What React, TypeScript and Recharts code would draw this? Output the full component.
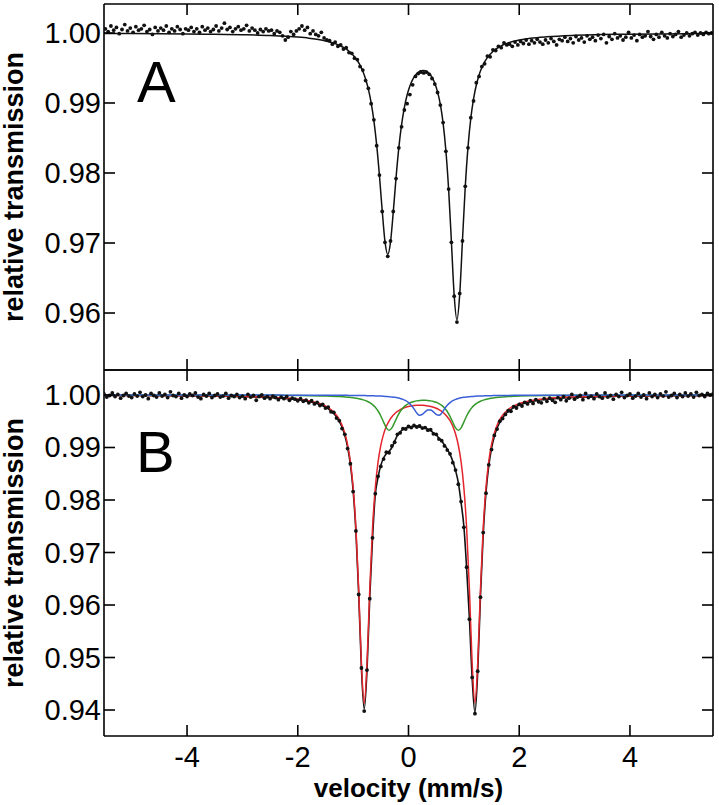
import React from "react";
import { ComposedChart, Line, Scatter, XAxis, YAxis, Label } from "recharts";

const FONT = "'Liberation Sans', Arial, Helvetica, sans-serif";
const INK = "#111";

const velocityTicks = [-4, -2, 0, 2, 4];
const ticksA = [0.96, 0.97, 0.98, 0.99, 1.0];
const ticksB = [0.94, 0.95, 0.96, 0.97, 0.98, 0.99, 1.0];

// ---- panel A ----
// measured points, first channel at -5.475 mm/s, 0.05 mm/s per channel
const startA = -5.475;
const obsA = [
  1.0006, 1.0002, 1.0010, 1.0004, 1.0008, 0.9999, 1.0005, 1.0012, 1.0003, 1.0007,
  1.0001, 1.0009, 1.0004, 1.0006, 1.0011, 1.0002, 1.0005, 0.9998, 1.0008, 1.0003,
  1.0007, 1.0004, 1.0010, 1.0001, 1.0006, 1.0003, 1.0009, 1.0005, 0.9999, 1.0006,
  1.0004, 1.0008, 1.0002, 1.0006, 1.0001, 1.0009, 1.0004, 1.0007, 1.0002, 1.0005,
  1.0010, 1.0003, 1.0007, 1.0014, 1.0005, 1.0008, 1.0002, 1.0006, 1.0009, 1.0004,
  1.0006, 1.0011, 1.0003, 1.0007, 1.0004, 1.0000, 1.0005, 1.0002, 1.0006, 1.0003,
  1.0004, 0.9999, 1.0003, 1.0001, 0.9996, 0.9990, 0.9994, 1.0002, 0.9998, 1.0003,
  1.0006, 1.0010, 1.0004, 1.0008, 0.9999, 1.0003, 0.9998, 0.9996, 1.0001, 0.9993, 0.9990,
  0.9989, 0.9984, 0.9987, 0.9981, 0.9983, 0.9977, 0.9979, 0.9972, 0.9971, 0.9964,
  0.9962, 0.9952, 0.9947, 0.9932, 0.9921, 0.9899, 0.9876, 0.9839, 0.9797, 0.9745,
  0.9701, 0.9681, 0.9703, 0.9745, 0.9792, 0.9836, 0.9866, 0.9890, 0.9899, 0.9912,
  0.9926, 0.9938, 0.9942, 0.9944, 0.9943, 0.9944, 0.9941, 0.9935, 0.9927, 0.9915,
  0.9897, 0.9872, 0.9831, 0.9777, 0.9701, 0.9624, 0.9587, 0.9628, 0.9703, 0.9781,
  0.9836, 0.9879, 0.9903, 0.9929, 0.9938, 0.9952, 0.9956, 0.9967, 0.9966, 0.9976,
  0.9975, 0.9981, 0.9979, 0.9986, 0.9983,
  0.9984, 0.9981, 0.9987, 0.9983, 0.9988, 0.9985, 0.9990, 0.9984, 0.9989, 0.9986,
  0.9991, 0.9987, 0.9984, 0.9990, 0.9986, 0.9992, 0.9988, 0.9983, 0.9991, 0.9989,
  0.9994, 0.9988, 0.9992, 0.9986, 0.9995, 0.9990, 0.9993, 0.9987, 0.9996, 0.9991,
  0.9994, 0.9989, 0.9997, 0.9992, 0.9998, 0.9986, 0.9995, 0.9991, 0.9999, 0.9993,
  0.9996, 0.9990, 0.9994, 1.0001, 0.9993, 0.9997, 0.9989, 0.9998, 0.9994, 0.9996,
  1.0002, 0.9995, 0.9991, 0.9998, 0.9994, 1.0001, 0.9996, 0.9993, 0.9999, 0.9995,
  0.9998, 1.0002, 0.9994, 0.9997, 1.0000, 0.9996, 0.9999, 1.0001,
  0.9997, 1.0000, 0.9998, 1.0001, 0.9999, 1.0000,
];
const fitVelA = [
  -5.5, -5, -4.5, -4, -3.5, -3, -2.5, -2.2, -2, -1.8, -1.6,
  -1.425, -1.375, -1.325, -1.275, -1.225, -1.175, -1.125, -1.075, -1.025, -0.975,
  -0.925, -0.875, -0.825, -0.775, -0.725, -0.675, -0.625, -0.575, -0.525, -0.475,
  -0.425, -0.375, -0.325, -0.275, -0.225, -0.175, -0.125, -0.075, -0.025, 0.025,
  0.075, 0.125, 0.175, 0.225, 0.275, 0.325, 0.375, 0.425, 0.475, 0.525,
  0.575, 0.625, 0.675, 0.725, 0.775, 0.825, 0.875, 0.925, 0.975, 1.025,
  1.075, 1.125, 1.175, 1.225, 1.275, 1.325, 1.375, 1.425, 1.475, 1.525,
  1.575, 1.625, 1.675, 1.725, 1.775,
  1.9, 2, 2.2, 2.5, 3, 3.5, 4, 4.5, 5, 5.5,
];
const fitA = [
  0.99993, 0.99991, 0.99989, 0.99986, 0.99982, 0.99975, 0.99964, 0.99952, 0.99941, 0.99926, 0.99903,
  0.99872, 0.99861, 0.99848, 0.99832, 0.99814, 0.99793, 0.99768, 0.99739, 0.99704, 0.9966,
  0.99607, 0.9954, 0.99454, 0.99343, 0.99197, 0.99004, 0.98745, 0.98402, 0.97964, 0.97464,
  0.97022, 0.96835, 0.97012, 0.97444, 0.97933, 0.98359, 0.9869, 0.98935, 0.99114, 0.99243,
  0.99334, 0.99398, 0.99438, 0.9946, 0.99465, 0.99452, 0.99421, 0.99367, 0.99283, 0.99159,
  0.98979, 0.98713, 0.98322, 0.97762, 0.97018, 0.96254, 0.95902, 0.96266, 0.97042, 0.97799,
  0.98373, 0.98778, 0.99059, 0.99257, 0.99401, 0.99507, 0.99587, 0.99648, 0.99697, 0.99736,
  0.99768, 0.99794, 0.99816, 0.99835, 0.9985,
  0.99881, 0.99899, 0.99924, 0.99946, 0.99966, 0.99977, 0.99983, 0.99987, 0.9999, 0.99992,
];

// ---- panel B ----
// measured points, first channel at -5.5 mm/s, 0.05 mm/s per channel
const startB = -5.5;
const obsB = [
  1.0002, 0.9996, 0.9999, 1.0004, 0.9997, 1.0001, 0.9994, 0.9999, 1.0003, 0.9998,
  0.9995, 1.0002, 0.9998, 1.0005, 0.9997, 1.0000, 0.9993, 1.0003, 0.9999, 0.9996,
  1.0004, 0.9998, 1.0001, 0.9995, 1.0006, 0.9999, 0.9997, 1.0003, 0.9994, 1.0000,
  0.9997, 1.0002, 0.9999, 1.0004, 0.9996, 0.9993, 1.0001, 0.9998, 1.0003, 0.9995,
  0.9999, 1.0002, 0.9996, 0.9998, 1.0003, 0.9994, 0.9999, 0.9997, 1.0001, 0.9995,
  0.9998, 0.9993, 1.0001, 0.9996, 0.9999, 0.9990, 0.9997, 1.0000, 0.9994, 0.9997,
  0.9993, 0.9998, 0.9995, 0.9991, 0.9996, 0.9993, 0.9997, 0.9990, 0.9994, 0.9992,
  0.9989, 0.9993, 0.9988, 0.9990,
  0.9985, 0.9989, 0.9983, 0.9986, 0.9980, 0.9982, 0.9975, 0.9977, 0.9968, 0.9967,
  0.9956, 0.9951, 0.9936, 0.9925, 0.9898, 0.9869, 0.9816, 0.9741, 0.9620, 0.9480,
  0.9398, 0.9476, 0.9612, 0.9728, 0.9812, 0.9845, 0.9864, 0.9878, 0.9891, 0.9890,
  0.9903, 0.9910, 0.9925, 0.9928, 0.9936, 0.9935, 0.9940, 0.9938, 0.9942, 0.9939,
  0.9941, 0.9937, 0.9938, 0.9933, 0.9934, 0.9926, 0.9925, 0.9916, 0.9913, 0.9903,
  0.9895, 0.9888, 0.9871, 0.9857, 0.9830, 0.9797, 0.9748, 0.9672, 0.9573, 0.9462,
  0.9393, 0.9474, 0.9615, 0.9738, 0.9813, 0.9867, 0.9896, 0.9923, 0.9935, 0.9950,
  0.9955,
  0.9963, 0.9970, 0.9969, 0.9978, 0.9975, 0.9982, 0.9979, 0.9986, 0.9983, 0.9989,
  0.9984, 0.9991, 0.9987, 0.9985, 0.9993, 0.9988, 0.9994, 0.9990, 0.9986, 0.9995,
  0.9991, 0.9997, 0.9989, 0.9994, 1.0001, 0.9992,
  0.9996, 0.9999, 0.9991, 1.0003, 0.9995, 0.9998, 0.9993, 1.0002, 0.9997, 0.9994,
  1.0004, 0.9996, 0.9999, 0.9992, 1.0001, 0.9997, 1.0005, 0.9995, 0.9999, 1.0002,
  0.9994, 0.9998, 1.0003, 0.9996, 1.0000, 0.9993, 1.0004, 0.9997, 1.0001, 0.9995,
  1.0002, 0.9998, 1.0006, 0.9996, 0.9999, 1.0003, 0.9995, 1.0001, 0.9997, 1.0004,
  0.9998, 1.0002, 0.9996, 1.0005, 0.9999, 1.0001, 0.9997, 1.0003, 1.0000, 1.0002,
];
const fitVelB = [
  -5.5, -5, -4.5, -4, -3.5, -3, -2.5, -2.2, -2, -1.8, -1.6, -1.5, -1.4, -1.3, -1.25,
  -1.2, -1.15, -1.1, -1.05, -1, -0.95, -0.9, -0.85, -0.8, -0.75,
  -0.7, -0.65, -0.6, -0.55, -0.5, -0.45, -0.4, -0.35, -0.3, -0.25,
  -0.2, -0.15, -0.1, -0.05, 0, 0.05, 0.1, 0.15, 0.2, 0.25,
  0.3, 0.35, 0.4, 0.45, 0.5, 0.55, 0.6, 0.65, 0.7, 0.75,
  0.8, 0.85, 0.9, 0.95, 1, 1.05, 1.1, 1.15, 1.2, 1.25,
  1.3, 1.35, 1.4, 1.45, 1.5, 1.55, 1.6, 1.65, 1.7,
  1.8, 1.9, 2, 2.2, 2.5, 3, 3.5, 4, 4.5, 5, 5.5,
];
const totalB = [
  0.99992, 0.9999, 0.99988, 0.99983, 0.99978, 0.99968, 0.99951, 0.99931, 0.99909, 0.99876, 0.99816, 0.99768, 0.99695, 0.99582, 0.99497,
  0.99385, 0.99229, 0.99008, 0.98681, 0.98181, 0.974, 0.96222, 0.94788, 0.94016, 0.94746,
  0.96137, 0.97264, 0.981, 0.9843, 0.9866, 0.988, 0.9888, 0.9893, 0.99, 0.9912,
  0.9923, 0.993, 0.9934, 0.9937, 0.9939, 0.994, 0.994, 0.994, 0.9939, 0.9938,
  0.9937, 0.9935, 0.9932, 0.9928, 0.9924, 0.9918, 0.9912, 0.9905, 0.9897, 0.9887,
  0.9874, 0.9856, 0.9833, 0.9795, 0.975, 0.967, 0.9575, 0.946, 0.9395, 0.94723,
  0.96171, 0.97359, 0.98147, 0.98654, 0.98984, 0.9921, 0.99368, 0.99483, 0.99568,
  0.99685, 0.9976, 0.9981, 0.99871, 0.99918, 0.99953, 0.99969, 0.99978, 0.99983, 0.99987, 0.99989,
];
const redB = [
  0.99993, 0.99992, 0.9999, 0.99986, 0.99982, 0.99974, 0.99959, 0.99942, 0.99922, 0.99892, 0.99837, 0.99792, 0.99723, 0.99614, 0.99533,
  0.99424, 0.99273, 0.99056, 0.98736, 0.98242, 0.9747, 0.96302, 0.94881, 0.94125, 0.94878,
  0.96297, 0.97462, 0.98233, 0.98723, 0.99041, 0.99255, 0.99403, 0.99509, 0.99586, 0.99644,
  0.99688, 0.99721, 0.99747, 0.99767, 0.99782, 0.99792, 0.998, 0.99804, 0.99806, 0.99804,
  0.998, 0.99792, 0.99782, 0.99767, 0.99748, 0.99721, 0.99689, 0.99644, 0.99586, 0.9951,
  0.99404, 0.99256, 0.99043, 0.98725, 0.98235, 0.97466, 0.96303, 0.94887, 0.94135, 0.9489,
  0.96309, 0.97474, 0.98245, 0.98738, 0.99058, 0.99274, 0.99425, 0.99534, 0.99614,
  0.99723, 0.99792, 0.99837, 0.99892, 0.99933, 0.99963, 0.99976, 0.99983, 0.99987, 0.9999, 0.99992,
];
const greenB = [
  1.0, 0.99998, 0.99998, 0.99998, 0.99997, 0.99996, 0.99994, 0.99992, 0.9999, 0.99987, 0.99983, 0.9998, 0.99977, 0.99973, 0.9997,
  0.99967, 0.99963, 0.99959, 0.99953, 0.99947, 0.99939, 0.9993, 0.99917, 0.99902, 0.99881,
  0.99854, 0.99817, 0.99765, 0.99695, 0.996, 0.99484, 0.99375, 0.99327, 0.99373, 0.9948,
  0.99593, 0.99686, 0.99754, 0.99802, 0.99837, 0.99861, 0.99877, 0.99888, 0.99895, 0.99898,
  0.99898, 0.99895, 0.99888, 0.99877, 0.99861, 0.99837, 0.99802, 0.99754, 0.99686, 0.99593,
  0.9948, 0.99373, 0.99327, 0.99375, 0.99484, 0.996, 0.99695, 0.99765, 0.99817, 0.99854,
  0.99881, 0.99902, 0.99917, 0.9993, 0.99939, 0.99947, 0.99953, 0.99959, 0.99963,
  0.9997, 0.99975, 0.99979, 0.99984, 0.99989, 0.99993, 0.99995, 0.99997, 0.99997, 0.99998, 0.99998,
];
const blueB = [
  1.0, 1.0, 1.0, 0.99999, 0.99999, 0.99998, 0.99998, 0.99997, 0.99997, 0.99997, 0.99996, 0.99996, 0.99995, 0.99995, 0.99994,
  0.99994, 0.99993, 0.99993, 0.99992, 0.99992, 0.99991, 0.9999, 0.9999, 0.99989, 0.99987,
  0.99986, 0.99985, 0.99983, 0.99981, 0.99979, 0.99976, 0.99972, 0.99968, 0.99962, 0.99955,
  0.99946, 0.99933, 0.99916, 0.99892, 0.99856, 0.99805, 0.99735, 0.99657, 0.99613, 0.99631,
  0.99679, 0.99712, 0.99712, 0.99679, 0.99631, 0.99613, 0.99657, 0.99735, 0.99805, 0.99856,
  0.99892, 0.99916, 0.99933, 0.99946, 0.99955, 0.99962, 0.99968, 0.99972, 0.99976, 0.99979,
  0.99981, 0.99983, 0.99985, 0.99986, 0.99987, 0.99989, 0.9999, 0.9999, 0.99991,
  0.99992, 0.99993, 0.99994, 0.99995, 0.99996, 0.99997, 0.99998, 0.99998, 0.99999, 0.99999, 1.0,
];

const channelRows = (start: number, vals: number[]) =>
  vals.map((t, i) => ({ v: Math.round((start + i * 0.05) * 1000) / 1000, t }));
const curveRows = (vel: number[], vals: number[]) => vel.map((v, i) => ({ v, t: vals[i] }));

const ptsA = channelRows(startA, obsA);
const lineA = curveRows(fitVelA, fitA);
const ptsB = channelRows(startB, obsB);
const lineTotal = curveRows(fitVelB, totalB);
const lineRed = curveRows(fitVelB, redB);
const lineGreen = curveRows(fitVelB, greenB);
const lineBlue = curveRows(fitVelB, blueB);

const TICK = 11;
const SW = 1.6;

const leftTick = (props: any) => {
  const { x, y, payload } = props;
  return (
    <g>
      <line x1={x} y1={y} x2={x + TICK} y2={y} stroke="#000" strokeWidth={SW} />
      <text x={x - 3} y={y + 10} textAnchor="end" fontSize={29} fontFamily={FONT} fill="#000">
        {Number(payload.value).toFixed(2)}
      </text>
    </g>
  );
};
const rightTick = (props: any) => (
  <line x1={props.x} y1={props.y} x2={props.x - TICK} y2={props.y} stroke="#000" strokeWidth={SW} />
);
const topTick = (props: any) => (
  <line x1={props.x} y1={props.y} x2={props.x} y2={props.y + TICK} stroke="#000" strokeWidth={SW} />
);
const bottomTick = (props: any) => (
  <line x1={props.x} y1={props.y} x2={props.x} y2={props.y - TICK} stroke="#000" strokeWidth={SW} />
);
const bottomTickLabelled = (props: any) => {
  const { x, y, payload } = props;
  return (
    <g>
      <line x1={x} y1={y} x2={x} y2={y - TICK} stroke="#000" strokeWidth={SW} />
      <text x={x} y={y + 31} textAnchor="middle" fontSize={29} fontFamily={FONT} fill="#000">
        {payload.value}
      </text>
    </g>
  );
};

const panelLabel = (letter: string, letterX: number, letterDy: number) => (props: any) => {
  const vb = props.viewBox || { y: 0, height: 0 };
  const cy = vb.y + vb.height / 2;
  return (
    <g>
      <text
        transform={`translate(23, ${cy}) rotate(-90)`}
        textAnchor="middle"
        fontSize={27}
        fontWeight="bold"
        fontFamily={FONT}
        fill="#000"
      >
        relative transmission
      </text>
      <text x={letterX} y={vb.y + letterDy} fontSize={58} fontFamily={FONT} fill="#000">
        {letter}
      </text>
    </g>
  );
};

const velocityLabel = (props: any) => {
  const vb = props.viewBox || { x: 0, y: 0, width: 0 };
  return (
    <text
      x={vb.x + vb.width / 2}
      y={vb.y + 61}
      textAnchor="middle"
      fontSize={26}
      fontWeight="bold"
      fontFamily={FONT}
      fill="#000"
    >
      velocity (mm/s)
    </text>
  );
};

const dot = (props: any) => <circle cx={props.cx} cy={props.cy} r={1.9} fill={INK} />;

const W = 719;
const H = 805;
const Y_AXIS_W = 60;
const RIGHT_W = 6;
const axisLine = { stroke: "#000", strokeWidth: SW };

// frame axes: bottom (series axis), top and right (ticks only)
const frame = (domainY: number[], ticksY: number[], topH: number, bottomH: number, labelled: boolean) => [
  <XAxis
    key="xb"
    xAxisId="b"
    type="number"
    dataKey="v"
    domain={[-5.5, 5.5]}
    allowDataOverflow
    ticks={velocityTicks}
    interval={0}
    height={bottomH}
    tickSize={0}
    tickMargin={0}
    axisLine={axisLine}
    tickLine={false}
    tick={labelled ? bottomTickLabelled : bottomTick}
    label={labelled ? <Label content={velocityLabel} /> : undefined}
  />,
  <XAxis
    key="xt"
    xAxisId="t"
    orientation="top"
    type="number"
    dataKey="v"
    domain={[-5.5, 5.5]}
    allowDataOverflow
    ticks={velocityTicks}
    interval={0}
    height={topH}
    tickSize={0}
    tickMargin={0}
    axisLine={axisLine}
    tickLine={false}
    tick={topTick}
  />,
  <YAxis
    key="yr"
    yAxisId="r"
    orientation="right"
    type="number"
    domain={domainY}
    allowDataOverflow
    ticks={ticksY}
    interval={0}
    width={RIGHT_W}
    tickSize={0}
    tickMargin={0}
    axisLine={axisLine}
    tickLine={false}
    tick={rightTick}
  />,
];

export default function App() {
  const domA = [0.95186, 1.00414];
  const domB = [0.93505, 1.00476];
  return (
    <div style={{ position: "absolute", left: 0, top: 0, width: W, height: H, background: "#fff" }}>
      <div style={{ position: "absolute", left: 0, top: 0 }}>
        <ComposedChart width={W} height={H} margin={{ top: 0, right: 0, bottom: H - 370 - 10, left: 104 - Y_AXIS_W }}>
          {frame(domA, ticksA, 4, 10, false)}
          <YAxis
            yAxisId="l"
            type="number"
            domain={domA}
            allowDataOverflow
            ticks={ticksA}
            interval={0}
            width={Y_AXIS_W}
            tickSize={0}
            tickMargin={0}
            axisLine={axisLine}
            tickLine={false}
            tick={leftTick}
            label={<Label content={panelLabel("A", 137, 98)} />}
          />
          <Line
            data={lineA}
            xAxisId="b"
            yAxisId="l"
            dataKey="t"
            type="monotone"
            stroke={INK}
            strokeWidth={1.5}
            dot={false}
            activeDot={false}
            isAnimationActive={false}
          />
          <Scatter
            data={ptsA}
            xAxisId="b"
            yAxisId="l"
            dataKey="t"
            shape={dot}
            isAnimationActive={false}
          />
        </ComposedChart>
      </div>
      <div style={{ position: "absolute", left: 0, top: 0 }}>
        <ComposedChart width={W} height={H} margin={{ top: 360, right: 0, bottom: H - 736 - 40, left: 104 - Y_AXIS_W }}>
          {frame(domB, ticksB, 10, 40, true)}
          <YAxis
            yAxisId="l"
            type="number"
            domain={domB}
            allowDataOverflow
            ticks={ticksB}
            interval={0}
            width={Y_AXIS_W}
            tickSize={0}
            tickMargin={0}
            axisLine={axisLine}
            tickLine={false}
            tick={leftTick}
            label={<Label content={panelLabel("B", 136, 102)} />}
          />
          <Line data={lineTotal} xAxisId="b" yAxisId="l" dataKey="t" type="monotone" stroke={INK} strokeWidth={1.6} dot={false} activeDot={false} isAnimationActive={false} />
          <Scatter data={ptsB} xAxisId="b" yAxisId="l" dataKey="t" shape={dot} isAnimationActive={false} />
          <Line data={lineRed} xAxisId="b" yAxisId="l" dataKey="t" type="monotone" stroke="#e3262d" strokeWidth={1.5} dot={false} activeDot={false} isAnimationActive={false} />
          <Line data={lineGreen} xAxisId="b" yAxisId="l" dataKey="t" type="monotone" stroke="#349a2a" strokeWidth={1.5} dot={false} activeDot={false} isAnimationActive={false} />
          <Line data={lineBlue} xAxisId="b" yAxisId="l" dataKey="t" type="monotone" stroke="#3b5fd6" strokeWidth={1.5} dot={false} activeDot={false} isAnimationActive={false} />
        </ComposedChart>
      </div>
    </div>
  );
}
